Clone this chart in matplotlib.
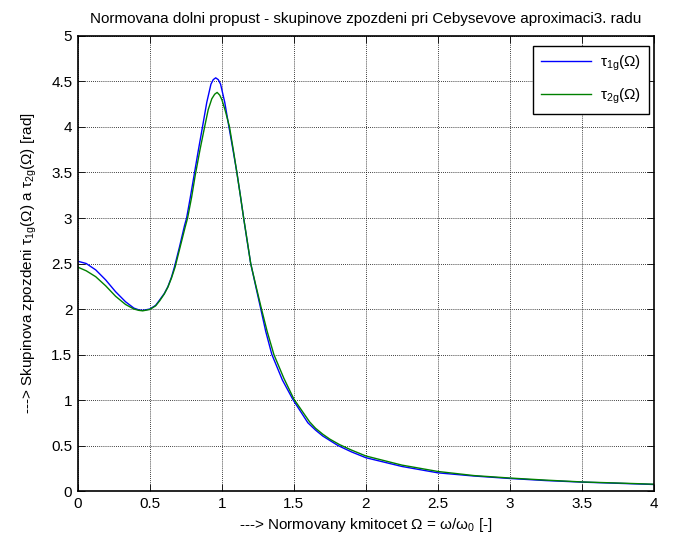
import matplotlib
matplotlib.use('Agg')
import matplotlib.pyplot as plt
import numpy as np

# values
w1 = [0.00, 0.058, 0.124, 0.193, 0.262, 0.331, 0.389, 0.424, 0.45, 0.50, 0.54, 0.568,
      0.60, 0.625, 0.65, 0.672, 0.706, 0.741, 0.755, 0.78, 0.807, 0.835, 0.863, 0.895,
      0.924, 0.94, 0.957, 0.975, 0.991, 1.02, 1.049, 1.077, 1.104, 1.128, 1.151, 1.175,
      1.20, 1.235, 1.27, 1.305, 1.347, 1.42, 1.495, 1.597, 1.65, 1.70, 1.75, 1.806, 1.90,
      2.00, 2.25, 2.50, 2.75, 3.00, 3.25, 3.50, 3.75, 4.00]
tau1 = [2.525, 2.50, 2.43, 2.32, 2.19, 2.08, 2.01, 1.99, 1.985, 2.00, 2.04, 2.10,
        2.17, 2.245, 2.35, 2.47, 2.685, 2.92, 3.00, 3.22, 3.47, 3.73, 3.98, 4.27,
        4.47, 4.52, 4.54, 4.52, 4.47, 4.27, 4.00, 3.75, 3.50, 3.25, 3.00, 2.75,
        2.50, 2.25, 2.00, 1.75, 1.50, 1.22, 1.00, 0.75, 0.67, 0.605, 0.555, 0.50, 0.43,
        0.366, 0.27, 0.20, 0.165, 0.138, 0.115, 0.098, 0.085, 0.072]

w2 = [0.00, 0.058, 0.124, 0.193, 0.262, 0.331, 0.389, 0.424, 0.45, 0.50, 0.54, 0.568,
      0.60, 0.625, 0.65, 0.675, 0.71, 0.745, 0.762, 0.79, 0.815, 0.848, 0.88, 0.905,
      0.93, 0.95, 0.967, 0.985, 1.00, 1.025, 1.053, 1.079, 1.104, 1.128, 1.151, 1.176,
      1.20, 1.237, 1.275, 1.315, 1.361, 1.43, 1.50, 1.609, 1.65, 1.70, 1.75, 1.817, 1.90,
      2.00, 2.25, 2.50, 2.75, 3.00, 3.25, 3.50, 3.75, 4.00]
tau2 = [2.46, 2.42, 2.355, 2.255, 2.14, 2.05, 2.00, 1.985, 1.98, 1.995, 2.035, 2.09,
        2.165, 2.24, 2.34, 2.46, 2.68, 2.90, 3.00, 3.23, 3.47, 3.75, 4.00, 4.19,
        4.31, 4.36, 4.38, 4.35, 4.30, 4.17, 4.00, 3.75, 3.50, 3.25, 3.00, 2.75,
        2.50, 2.25, 2.00, 1.75, 1.50, 1.24, 1.01, 0.76, 0.69, 0.625, 0.57, 0.51, 0.45,
        0.385, 0.285, 0.215, 0.17, 0.143, 0.12, 0.10, 0.088, 0.075]

plt.rcParams['font.family'] = ['Liberation Sans', 'DejaVu Sans']
plt.rcParams['mathtext.fontset'] = 'custom'
plt.rcParams['mathtext.rm'] = 'Liberation Sans'
plt.rcParams['mathtext.it'] = 'Liberation Sans'
fs = 11

fig = plt.figure(figsize=(6.77, 5.45), dpi=100)
ax = fig.add_axes([0.115, 0.099, 0.851, 0.835])

ax.plot(w1, tau1, color='#0000ff', lw=1.0, label=r'$\mathrm{\tau_{1g}(\Omega)}$')
ax.plot(w2, tau2, color='#008000', lw=1.0, label=r'$\mathrm{\tau_{2g}(\Omega)}$')

ax.set_xlim(0, 4)
ax.set_ylim(0, 5)
ax.set_xticks(np.arange(0, 4.01, 0.5))
ax.set_yticks(np.arange(0, 5.01, 0.5))
ax.set_xticklabels(['0', '0.5', '1', '1.5', '2', '2.5', '3', '3.5', '4'])
ax.set_yticklabels(['0', '0.5', '1', '1.5', '2', '2.5', '3', '3.5', '4', '4.5', '5'])
ax.tick_params(direction='in', top=True, right=True, length=5, width=0.6,
               labelsize=fs, pad=4, colors='k')
ax.grid(True, color='k', linestyle=(0, (1, 1.5)), linewidth=0.6)
for s in ax.spines.values():
    s.set_linewidth(1.2)

ax.set_title('Normovana dolni propust - skupinove zpozdeni pri Cebysevove aproximaci3. radu',
             fontsize=fs, pad=9)
ax.set_xlabel(r'---> Normovany kmitocet $\mathrm{\Omega}$ = $\mathrm{\omega/\omega_0}$ [-]',
              fontsize=fs, labelpad=4)
ax.set_ylabel(r'---> Skupinova zpozdeni $\mathrm{\tau_{1g}(\Omega)}$ a $\mathrm{\tau_{2g}(\Omega)}$ [rad]',
              fontsize=fs, labelpad=9)

leg = ax.legend(loc='upper right', fontsize=fs, fancybox=False, framealpha=1,
                edgecolor='k', borderpad=0.5, handlelength=3.3, handletextpad=0.6,
                labelspacing=0.9, borderaxespad=0, bbox_to_anchor=(0.991, 0.978))
leg.get_frame().set_linewidth(1.0)

fig.savefig('out.png', dpi=100)
